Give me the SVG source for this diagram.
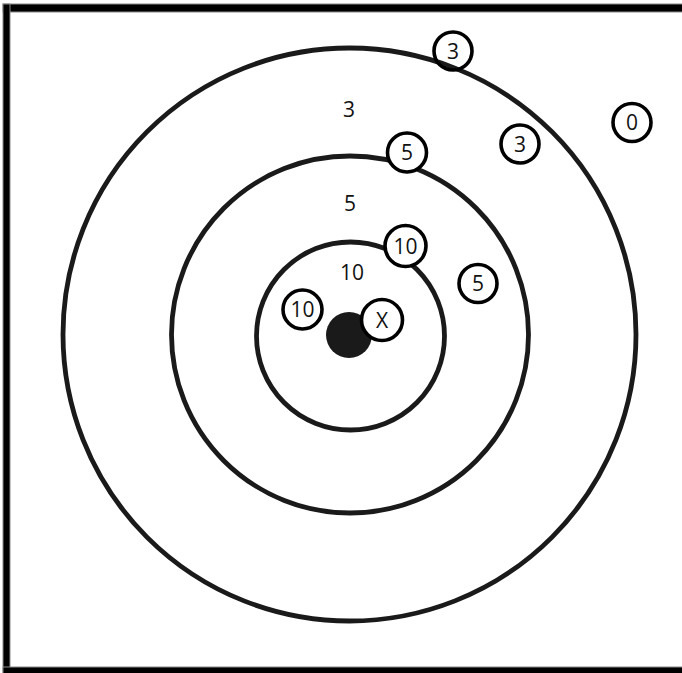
<svg xmlns="http://www.w3.org/2000/svg" width="682" height="673" viewBox="0 0 682 673">
<style>
.ring{fill:none;stroke:#1a1a1a;stroke-width:4.8}
.mk{fill:#fff;stroke:#000;stroke-width:3.6}
.mk.open{fill:none}
.t{font-family:"Open Sans","Liberation Sans",sans-serif;font-size:21px;fill:#111;text-anchor:middle}
</style>
<rect x="0" y="0" width="682" height="673" fill="#fff"/>
<g id="frame" fill="#000" stroke="#8a8a8a" stroke-width="1">
<rect x="3" y="4" width="680" height="8"/>
<rect x="3" y="4" width="7" height="670"/>
<rect x="3" y="667" width="680" height="7"/>
</g>
<g id="rings">
<circle id="ring-outer" class="ring" cx="349.5" cy="334.5" r="286.5"/>
<circle id="ring-middle" class="ring" cx="350" cy="334.5" r="178.5"/>
<circle id="ring-inner" class="ring" cx="350.5" cy="336" r="94"/>
<circle id="bullseye" cx="349" cy="335" r="23" fill="#1a1a1a"/>
</g>
<g id="zone-labels">
<text class="t" x="349" y="117">3</text>
<text class="t" x="350" y="211">5</text>
<text class="t" x="352" y="279.5">10</text>
</g>
<g id="hit-3a"><circle class="mk open" cx="453" cy="51" r="19"/><text class="t" x="453" y="58.5">3</text></g>
<g id="hit-5a"><circle class="mk" cx="407" cy="152.5" r="19.5"/><text class="t" x="407" y="160">5</text></g>
<g id="hit-3b"><circle class="mk" cx="520" cy="144" r="19"/><text class="t" x="520" y="151.5">3</text></g>
<g id="hit-0"><circle class="mk" cx="632" cy="122.5" r="19"/><text class="t" x="632" y="130">0</text></g>
<g id="hit-10a"><circle class="mk" cx="405.5" cy="246" r="20.5"/><text class="t" x="405.5" y="253.5">10</text></g>
<g id="hit-10b"><circle class="mk" cx="302.5" cy="309.5" r="19.5"/><text class="t" x="302.5" y="317">10</text></g>
<g id="hit-5b"><circle class="mk" cx="478" cy="283.5" r="19"/><text class="t" x="478" y="291">5</text></g>
<g id="hit-x"><circle class="mk" cx="382" cy="320" r="20.5"/><text class="t" x="382" y="327.5">X</text></g>
</svg>
